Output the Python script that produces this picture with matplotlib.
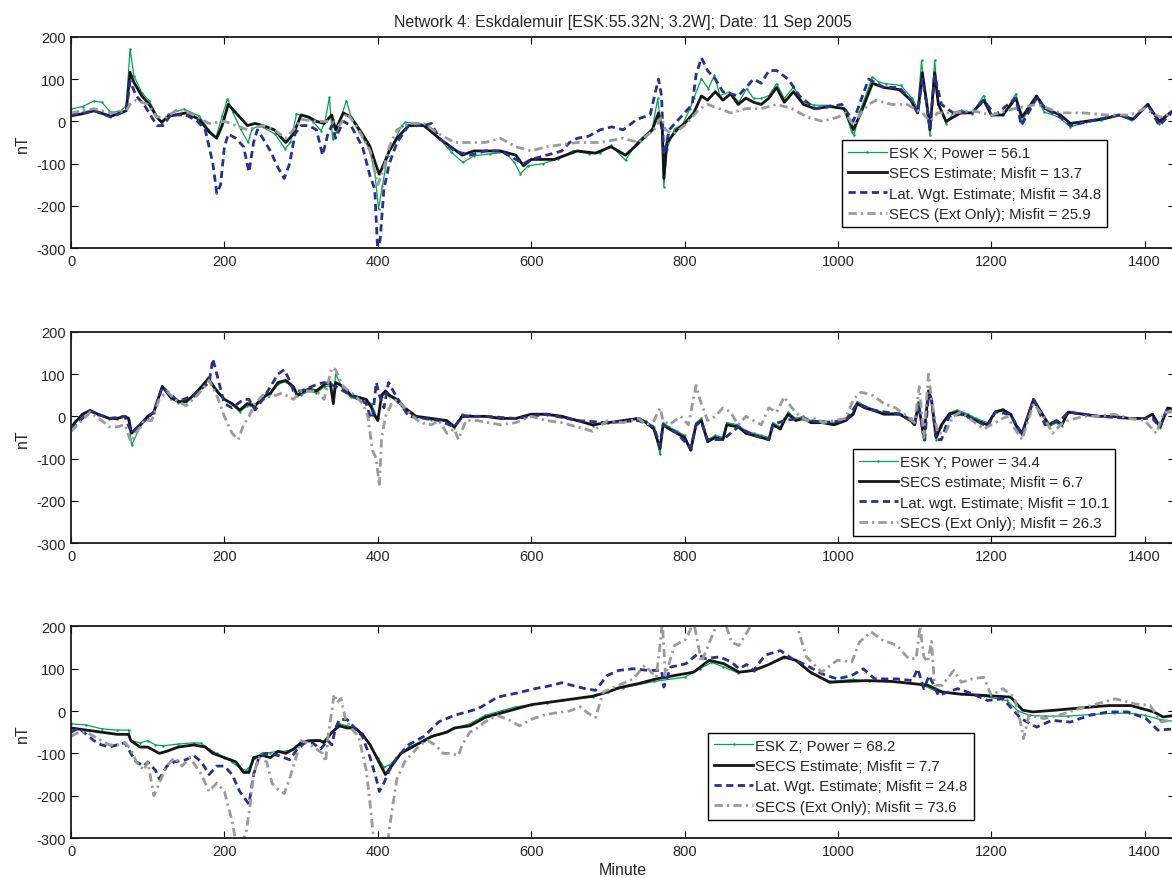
import matplotlib
matplotlib.use("Agg")
import matplotlib.pyplot as plt

plt.rcParams['font.family'] = ['Liberation Sans', 'DejaVu Sans']
plt.rcParams['axes.unicode_minus'] = False

# ================= DATA (minute, nT) =================

# --- X component ---
x_obs_t = [0, 15, 30, 40, 52, 65, 72, 77, 82, 92, 102, 112, 119, 127, 147, 167, 179, 189, 197, 204,
           211, 221, 231, 236, 246, 266, 279, 286, 294, 306, 316, 326, 331, 337, 341, 346, 359, 366, 376, 389,
           396, 401, 406, 413, 421, 431, 436, 456, 466, 481, 496, 511, 526, 546, 566, 578, 586, 596, 615, 635,
           655, 675, 690, 704, 723, 738, 758, 765, 770, 773, 777, 787, 797, 807, 812, 822, 831, 839, 846, 858,
           871, 881, 890, 900, 910, 920, 930, 942, 954, 969, 989, 1008, 1018, 1021, 1028, 1038, 1045, 1053, 1062, 1082,
           1097, 1104, 1109, 1114, 1120, 1126, 1131, 1141, 1151, 1161, 1175, 1190, 1200, 1215, 1232, 1239, 1259, 1269, 1288, 1303,
           1323, 1343, 1367, 1382, 1404, 1419, 1440]
x_obs_v = [29, 35, 48, 45, 21, 25, 37, 171, 108, 68, 49, 13, -6, 17, 29, 13, -18, -38, 13, 53,
           21, -18, -50, -18, -10, -30, -65, -50, 17, 13, -2, -22, -2, 57, -42, -26, 49, 6, -26, -65,
           -120, -207, -152, -81, -50, -10, -2, -6, -14, -42, -73, -97, -81, -77, -73, -97, -124, -105, -100, -89,
           -69, -77, -75, -57, -92, -49, -17, 54, -20, -155, -65, -17, -9, 30, 54, 101, 77, 109, 61, 69,
           46, 77, 54, 54, 61, 89, 54, 81, 46, 38, 38, 30, -25, -33, 22, 69, 105, 93, 89, 85,
           54, 30, 144, 54, -33, 144, 46, -6, 22, 26, 18, 61, 14, 14, 65, -2, 57, 22, 10, -13,
           -2, 2, 14, 2, 42, -6, 30]

x_secs_t = [0, 15, 30, 52, 72, 77, 82, 92, 102, 112, 118, 127, 150, 167, 180, 190, 197, 205, 215, 230,
            240, 250, 265, 280, 290, 300, 310, 320, 330, 340, 345, 355, 365, 380, 390, 397, 402, 408, 415, 425,
            440, 460, 480, 495, 510, 525, 560, 580, 590, 600, 630, 660, 684, 704, 723, 738, 758, 766, 771, 773,
            777, 790, 800, 812, 822, 830, 840, 850, 860, 870, 880, 890, 900, 910, 920, 930, 942, 955, 970, 990,
            1008, 1020, 1030, 1045, 1060, 1080, 1095, 1104, 1110, 1116, 1120, 1126, 1131, 1141, 1160, 1175, 1190, 1200, 1215, 1232,
            1240, 1259, 1270, 1290, 1303, 1323, 1343, 1367, 1385, 1404, 1419, 1440]
x_secs_v = [13, 18, 25, 12, 25, 116, 92, 61, 40, 10, -2, 12, 20, 5, -25, -40, -10, 40, 20, -10,
            -5, -10, -20, -50, -30, 15, 10, 0, -5, 15, -20, 20, 10, -30, -60, -100, -125, -100, -70, -40,
            -10, -10, -40, -60, -80, -70, -70, -80, -105, -90, -90, -70, -75, -60, -80, -55, -20, 20, -20, -135,
            -50, -20, -5, 20, 60, 50, 70, 50, 65, 40, 55, 45, 40, 55, 80, 45, 70, 40, 30, 35,
            30, -20, 20, 90, 80, 75, 50, 20, 115, 40, -20, 115, 40, 0, 20, 20, 50, 15, 15, 55,
            10, 60, 30, 15, -5, 0, 5, 15, 5, 40, 0, 30]

x_lat_t = [0, 30, 52, 72, 77, 85, 95, 112, 120, 130, 150, 165, 175, 185, 190, 195, 200, 205, 215, 225,
           232, 238, 243, 250, 260, 270, 278, 285, 292, 300, 310, 320, 328, 335, 340, 345, 355, 365, 380, 390,
           396, 400, 403, 408, 415, 425, 440, 460, 470, 480, 500, 520, 540, 560, 580, 590, 600, 620, 640, 650,
           660, 675, 690, 705, 720, 738, 755, 766, 770, 773, 780, 790, 800, 810, 815, 822, 830, 840, 850, 870,
           880, 890, 900, 910, 920, 935, 950, 970, 990, 1005, 1020, 1040, 1060, 1080, 1095, 1104, 1110, 1116, 1120, 1126,
           1135, 1150, 1175, 1190, 1205, 1232, 1239, 1259, 1270, 1290, 1303, 1340, 1367, 1385, 1404, 1419, 1440]
x_lat_v = [15, 25, 10, 25, 95, 60, 40, -10, -10, 15, 15, 0, -20, -100, -170, -150, -60, -30, -40, -60,
           -120, -50, -20, -40, -70, -110, -135, -100, -30, -10, -10, -20, -80, -30, -10, -40, 0, -10, -60, -130,
           -160, -310, -280, -160, -100, -50, -10, -10, -5, -40, -70, -80, -70, -70, -90, -100, -90, -80, -70, -50,
           -40, -35, -20, -13, -20, 5, 15, 100, 60, -80, -20, 0, 20, 40, 110, 150, 120, 100, 70, 60,
           80, 100, 90, 120, 120, 100, 60, 30, 35, 40, 0, 100, 80, 80, 50, 20, 100, 40, -20, 110,
           40, 20, 20, 50, 15, 55, -10, 55, 30, 10, -10, 5, 15, 5, 40, -10, 30]

x_ext_t = [0, 30, 52, 72, 77, 85, 100, 112, 125, 140, 160, 180, 200, 215, 230, 250, 265, 280, 290, 300,
           320, 340, 350, 360, 375, 390, 400, 408, 415, 425, 440, 460, 480, 500, 520, 540, 560, 580, 600, 620,
           640, 660, 690, 720, 740, 760, 770, 775, 785, 800, 810, 820, 830, 845, 860, 880, 900, 920, 940, 960,
           980, 1000, 1010, 1020, 1030, 1040, 1050, 1070, 1090, 1110, 1120, 1130, 1150, 1175, 1200, 1230, 1260, 1290, 1320, 1350,
           1380, 1400, 1420, 1440]
x_ext_v = [20, 30, 20, 25, 40, 50, 40, 10, 10, 30, 15, -5, 0, -10, -20, -10, -20, -40, -20, 5,
           0, 0, -10, 20, -20, -70, -150, -110, -60, -20, -5, -5, -30, -50, -50, -50, -40, -60, -70, -60,
           -55, -50, -50, -40, -50, -20, 10, -20, -30, -10, 10, 30, 40, 30, 20, 30, 30, 40, 30, 10,
           0, 10, 20, -10, 20, 40, 50, 40, 40, 20, 0, 20, 20, 25, 15, 30, 40, 20, 20, 15,
           15, 30, 10, 20]

# --- Y component ---
y_t = [0, 5, 15, 25, 35, 50, 60, 70, 75, 79, 90, 100, 108, 119, 130, 140, 150, 160, 170, 179,
       190, 200, 210, 220, 230, 240, 250, 260, 270, 280, 290, 295, 300, 310, 320, 330, 338, 342, 345, 355,
       365, 375, 385, 392, 395, 400, 405, 410, 415, 425, 435, 450, 470, 490, 500, 510, 520, 540, 560, 580,
       600, 620, 640, 660, 680, 700, 720, 740, 750, 760, 768, 772, 780, 790, 800, 808, 815, 822, 830, 840,
       850, 855, 870, 880, 890, 900, 910, 915, 925, 930, 935, 945, 955, 965, 980, 995, 1010, 1020, 1025, 1035,
       1045, 1060, 1080, 1095, 1100, 1105, 1112, 1118, 1122, 1128, 1135, 1145, 1155, 1170, 1180, 1195, 1205, 1215, 1225, 1232,
       1240, 1255, 1265, 1275, 1285, 1292, 1300, 1320, 1340, 1360, 1380, 1400, 1410, 1420, 1430, 1440]
y_obs_v = [-25, -12, 6, 13, 4, -6, -6, 0, -8, -68, -25, -3, 8, 68, 42, 32, 33, 48, 68, 92,
           62, 40, 28, 10, 25, 22, 42, 52, 76, 82, 66, 48, 50, 60, 55, 70, 72, 40, 100, 62,
           45, 40, 35, 30, 10, -5, 45, 55, 48, 35, 15, -2, -8, -12, -28, 5, 2, 0, -3, -5,
           5, 3, -2, -8, -22, -15, -10, -3, -12, -25, -90, -15, -25, -35, -45, -78, -15, -5, -55, -45,
           -50, -15, -20, -35, -40, -45, -50, -15, -25, -5, 10, -5, 0, -10, -10, -15, -5, 10, 35, 25,
           18, 8, 8, -5, -15, 35, -55, 55, 30, -55, -25, 8, 15, 5, -5, -15, 12, 18, 5, -25,
           -45, 38, 8, -25, -15, -22, 8, 5, 0, 0, -5, -5, 5, -28, 18, 15]
y_secs_v = [-29, -15, 5, 14, 5, -5, -5, 0, -5, -40, -20, 0, 10, 71, 45, 35, 35, 50, 70, 89,
            60, 40, 30, 15, 30, 25, 45, 55, 80, 85, 70, 50, 55, 65, 60, 75, 80, 30, 80, 70,
            50, 45, 40, 20, 5, -10, 50, 60, 50, 40, 20, 0, -5, -10, -25, 0, 0, 0, -5, -5,
            5, 5, 0, -10, -20, -15, -10, -5, -15, -30, -76, -20, -30, -40, -50, -80, -20, -10, -60, -50,
            -55, -20, -25, -40, -45, -50, -55, -20, -30, -10, 5, -10, -5, -15, -15, -20, -10, 5, 30, 20,
            15, 5, 5, -10, -20, 30, -50, 60, 40, -50, -20, 5, 10, 0, -10, -20, 10, 15, 5, -20,
            -40, 40, 10, -20, -10, -20, 10, 5, 0, 0, -5, -5, 5, -25, 20, 15]

y_lat_t = [0, 25, 50, 70, 79, 90, 108, 119, 140, 160, 180, 185, 190, 200, 210, 225, 232, 240, 250, 260,
           270, 278, 285, 290, 300, 320, 330, 340, 350, 365, 385, 390, 393, 398, 402, 408, 414, 420, 430, 440,
           460, 480, 500, 510, 540, 580, 620, 660, 700, 740, 760, 768, 772, 790, 808, 815, 822, 830, 850, 870,
           890, 910, 915, 930, 950, 980, 1010, 1025, 1045, 1080, 1100, 1105, 1113, 1118, 1122, 1128, 1135, 1145, 1160, 1180,
           1195, 1205, 1225, 1240, 1255, 1270, 1290, 1300, 1340, 1380, 1410, 1420, 1430, 1440]
y_lat_v = [-30, 12, -5, 0, -40, -20, 10, 70, 35, 50, 80, 136, 100, 30, 20, 40, 40, 15, 40, 70,
           100, 110, 85, 60, 60, 75, 80, 75, 65, 50, 30, 0, -5, 80, 50, 20, 80, 60, 30, 0,
           -5, -10, -25, 0, 0, -5, 5, -10, -15, -10, -25, -70, -20, -40, -75, -20, -15, -55, -55, -25,
           -45, -55, -20, -10, -5, -15, -10, 30, 15, 5, -15, 30, -60, 50, 40, -55, -55, 0, 5, -10,
           -25, 10, 5, -45, 40, -20, -10, 10, 0, -5, -5, -25, 20, 15]

y_ext_t = [0, 25, 40, 50, 60, 70, 78, 85, 95, 105, 115, 125, 135, 150, 165, 180, 190, 200, 210, 218,
           225, 232, 240, 250, 260, 275, 290, 300, 320, 330, 340, 345, 355, 370, 380, 387, 393, 398, 402, 405,
           410, 418, 425, 440, 455, 470, 480, 490, 500, 505, 515, 530, 560, 580, 600, 620, 640, 660, 680, 700,
           720, 740, 750, 760, 768, 772, 780, 795, 805, 815, 820, 830, 840, 850, 860, 870, 880, 890, 900, 910,
           920, 930, 940, 950, 960, 970, 980, 995, 1010, 1020, 1030, 1045, 1060, 1075, 1090, 1100, 1106, 1112, 1118, 1122,
           1130, 1140, 1150, 1160, 1175, 1190, 1200, 1220, 1240, 1255, 1268, 1280, 1290, 1300, 1320, 1340, 1360, 1380, 1400, 1415,
           1425, 1440]
y_ext_v = [-35, 10, -10, -25, -25, -20, -60, -40, -10, -10, 40, 60, 40, 25, 50, 85, 50, 0, -40, -55,
           -20, 0, 30, 50, 45, 55, 40, 60, 60, 40, 115, 110, 70, 50, 30, 0, -80, -100, -165, -50,
           0, 30, 40, 10, -15, -20, -10, -40, -30, -55, -10, -10, -20, -15, 0, -10, -15, -25, -35, -10,
           -15, -5, -20, -10, 20, -10, -20, 0, -20, 73, 40, -10, 0, 20, 10, -20, 0, -10, -20, 20,
           10, 46, 20, 0, -10, -5, -15, -10, -5, 40, 57, 50, 30, 20, 0, -15, 70, -50, 100, 40,
           -40, -40, 0, 10, -10, -30, -20, 0, -55, 30, 0, -40, -20, -10, 0, 0, 5, -5, -10, -40,
           10, 10]

# --- Z component ---
z_obs_t = [0, 20, 40, 60, 75, 78, 90, 100, 110, 120, 140, 160, 170, 180, 190, 200, 210, 220, 228, 234,
           240, 250, 260, 270, 280, 290, 300, 310, 320, 330, 340, 350, 360, 370, 380, 390, 400, 408, 415, 425,
           440, 460, 480, 500, 520, 540, 560, 580, 600, 620, 640, 660, 680, 700, 720, 760, 800, 820, 835, 850,
           870, 890, 930, 945, 965, 990, 1020, 1040, 1080, 1110, 1130, 1160, 1190, 1220, 1235, 1250, 1270, 1300, 1330, 1360,
           1380, 1400, 1420, 1440]
z_obs_v = [-30, -33, -42, -45, -45, -70, -75, -70, -80, -82, -78, -75, -76, -90, -100, -110, -120, -135, -140, -130,
           -110, -98, -98, -95, -95, -90, -75, -70, -68, -70, -50, -30, -35, -40, -55, -80, -110, -132, -128, -110,
           -85, -70, -55, -40, -30, -10, 0, 10, 15, 20, 25, 30, 33, 45, 55, 70, 80, 100, 115, 105,
           90, 95, 125, 120, 90, 70, 75, 70, 70, 62, 45, 40, 35, 25, 0, -10, -12, -12, -8, -5,
           -5, -10, -20, -25]

z_secs_t = [0, 20, 40, 60, 75, 78, 90, 100, 115, 125, 140, 160, 175, 185, 200, 215, 225, 232, 238, 250,
            260, 270, 280, 290, 300, 310, 325, 330, 340, 350, 360, 370, 380, 390, 400, 410, 418, 430, 450, 470,
            490, 500, 520, 540, 560, 580, 600, 620, 640, 660, 680, 700, 714, 740, 763, 790, 812, 832, 851, 871,
            890, 910, 930, 945, 964, 989, 1010, 1038, 1070, 1102, 1117, 1136, 1160, 1190, 1225, 1241, 1254, 1283, 1320, 1353,
            1382, 1412, 1424, 1440]
z_secs_v = [-40, -45, -50, -55, -55, -70, -85, -85, -100, -95, -85, -80, -85, -100, -110, -120, -145, -145, -110, -105,
            -110, -95, -100, -90, -75, -70, -70, -75, -50, -35, -40, -40, -55, -80, -115, -150, -130, -100, -80, -60,
            -50, -40, -35, -15, -5, 5, 15, 20, 25, 30, 35, 45, 55, 65, 76, 85, 92, 120, 112, 92,
            96, 110, 128, 120, 92, 68, 70, 72, 70, 64, 61, 45, 40, 37, 33, 2, -2, 2, 8, 13,
            13, -2, -14, -10]

z_lat_t = [0, 10, 20, 30, 40, 50, 60, 70, 78, 85, 95, 100, 110, 115, 125, 135, 150, 160, 170, 180,
           190, 200, 210, 220, 228, 232, 238, 245, 255, 270, 285, 295, 305, 315, 325, 335, 340, 345, 350, 360,
           370, 380, 390, 398, 402, 408, 415, 425, 440, 460, 480, 500, 510, 520, 530, 540, 556, 580, 605, 620,
           640, 655, 670, 684, 699, 714, 733, 753, 770, 773, 782, 802, 817, 827, 846, 861, 871, 881, 890, 905,
           925, 940, 959, 979, 999, 1018, 1033, 1048, 1077, 1097, 1104, 1112, 1119, 1131, 1156, 1175, 1195, 1215, 1239, 1259,
           1279, 1303, 1328, 1353, 1378, 1402, 1417, 1440]
z_lat_v = [-50, -40, -55, -70, -80, -85, -80, -75, -100, -120, -130, -120, -140, -160, -130, -120, -115, -105, -120, -150,
           -130, -130, -150, -190, -210, -220, -150, -110, -100, -105, -115, -90, -75, -75, -90, -70, -80, -40, -20, -20,
           -40, -60, -110, -160, -190, -170, -140, -110, -80, -60, -25, -10, -5, 0, 5, 15, 33, 42, 53, 58,
           67, 60, 53, 49, 84, 96, 100, 96, 96, 57, 104, 112, 135, 124, 128, 116, 100, 110, 96, 132,
           143, 124, 108, 88, 76, 84, 100, 76, 76, 72, 100, 53, 84, 37, 53, 41, 25, 29, -18, -38,
           -22, -26, -10, -2, -2, -18, -45, -42]

z_ext_t = [0, 10, 20, 30, 40, 50, 60, 70, 78, 85, 95, 100, 108, 115, 125, 135, 145, 155, 170, 180,
           190, 200, 210, 215, 222, 228, 233, 238, 245, 255, 262, 270, 278, 285, 295, 300, 308, 320, 328, 332,
           335, 340, 343, 347, 352, 358, 365, 375, 385, 390, 395, 413, 418, 425, 435, 445, 455, 465, 475, 485,
           495, 505, 510, 520, 530, 540, 555, 570, 585, 600, 615, 630, 650, 664, 674, 684, 694, 714, 733, 748,
           763, 768, 771, 775, 787, 802, 812, 822, 841, 851, 861, 871, 886, 905, 930, 945, 959, 979, 999, 1018,
           1028, 1043, 1058, 1077, 1092, 1102, 1107, 1112, 1117, 1122, 1126, 1136, 1151, 1161, 1175, 1190, 1200, 1215, 1230, 1237,
           1242, 1249, 1269, 1288, 1313, 1338, 1362, 1387, 1407, 1422, 1440]
z_ext_v = [-60, -50, -50, -60, -70, -80, -80, -75, -90, -120, -140, -120, -200, -170, -130, -110, -130, -110, -150, -190,
           -170, -190, -260, -310, -310, -290, -230, -150, -110, -120, -170, -185, -195, -160, -100, -70, -75, -90, -100, -120,
           -60, 0, 40, 20, 30, -20, -40, -60, -140, -220, -310, -310, -240, -160, -120, -100, -80, -70, -80, -100,
           -100, -105, -80, -50, -40, -25, -10, -20, -35, -20, -10, -5, 0, 10, -5, -15, 45, 61, 76, 108,
           80, 155, 210, 84, 155, 170, 210, 116, 200, 220, 163, 155, 200, 210, 230, 210, 128, 92, 120, 116,
           163, 187, 168, 155, 124, 124, 200, 128, 116, 165, 61, 61, 96, 68, 76, 80, 37, 53, 33, -18,
           -65, -10, -18, -10, 5, 17, 29, 17, 13, -26, -18]

labels_x = ["ESK X; Power = 56.1", "SECS Estimate; Misfit = 13.7",
            "Lat. Wgt. Estimate; Misfit = 34.8", "SECS (Ext Only); Misfit = 25.9"]
labels_y = ["ESK Y; Power = 34.4", "SECS estimate; Misfit = 6.7",
            "Lat. wgt. Estimate; Misfit = 10.1", "SECS (Ext Only); Misfit = 26.3"]
labels_z = ["ESK Z; Power = 68.2", "SECS Estimate; Misfit = 7.7",
            "Lat. Wgt. Estimate; Misfit = 24.8", "SECS (Ext Only); Misfit = 73.6"]

title = "Network 4: Eskdalemuir [ESK:55.32N; 3.2W]; Date: 11 Sep 2005"

# ================= PLOT =================

GREEN = "#00a651"
BLUE = "#2a3090"
GRAY = "#9b9b9b"
BLACK = "#151515"
TXT = "#262626"


def draw_panel(ax, obs, secs, lat, ext, labels, legend_xy):
    ax.plot(obs[0], obs[1], color=GREEN, lw=0.9, marker='.', markersize=1.5, label=labels[0])
    ax.plot(secs[0], secs[1], color=BLACK, lw=2.0, label=labels[1])
    ax.plot(lat[0], lat[1], color=BLUE, lw=2.0, dashes=(2.6, 1.6), label=labels[2])
    ax.plot(ext[0], ext[1], color=GRAY, lw=2.0, dashes=(3.0, 1.5, 0.8, 1.5), label=labels[3])

    ax.set_xlim(0, 1440)
    ax.set_ylim(-300, 200)
    ax.set_xticks(range(0, 1401, 200))
    ax.set_yticks(range(-300, 201, 100))
    ax.tick_params(direction='in', top=True, right=True, length=5, width=0.8,
                   labelsize=10.5, labelcolor=TXT, pad=4)
    for s in ax.spines.values():
        s.set_linewidth(1.3)
        s.set_color("#1a1a1a")
    ax.set_ylabel("nT", fontsize=11.5, color=TXT)
    ax.yaxis.set_label_coords(-0.037, 0.5)

    leg = ax.legend(loc='upper left', bbox_to_anchor=legend_xy, borderaxespad=0,
                    fontsize=10.8, frameon=True, fancybox=False, framealpha=1,
                    edgecolor="black", handlelength=2.6, handletextpad=0.15,
                    labelspacing=0.42, borderpad=0.4, labelcolor=TXT)
    leg.get_frame().set_linewidth(1.0)


fig = plt.figure(figsize=(11.72, 8.79), dpi=100)
left, width, height = 0.0606, 0.9423, 0.2407

ax1 = fig.add_axes([left, 0.7164, width, height])
ax2 = fig.add_axes([left, 0.3808, width, height])
ax3 = fig.add_axes([left, 0.0455, width, height])

draw_panel(ax1, (x_obs_t, x_obs_v), (x_secs_t, x_secs_v), (x_lat_t, x_lat_v),
           (x_ext_t, x_ext_v), labels_x, (0.698, 0.512))
draw_panel(ax2, (y_t, y_obs_v), (y_t, y_secs_v), (y_lat_t, y_lat_v),
           (y_ext_t, y_ext_v), labels_y, (0.708, 0.446))
draw_panel(ax3, (z_obs_t, z_obs_v), (z_secs_t, z_secs_v), (z_lat_t, z_lat_v),
           (z_ext_t, z_ext_v), labels_z, (0.577, 0.498))

ax1.set_title(title, fontsize=11.5, color=TXT, pad=8)
ax3.set_xlabel("Minute", fontsize=11.5, color=TXT, labelpad=3)

fig.savefig("out.png", dpi=100)
